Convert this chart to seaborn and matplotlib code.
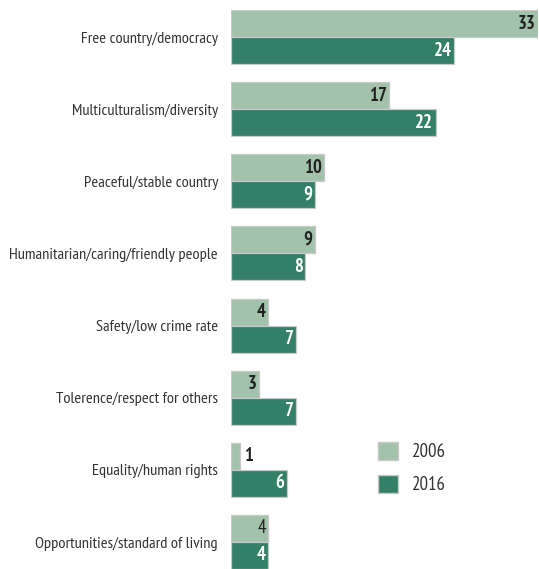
import numpy as np
import pandas as pd
import matplotlib
matplotlib.use("Agg")
import matplotlib.pyplot as plt
import seaborn as sns
from matplotlib.patches import Patch
from matplotlib import font_manager as fm

# Datos
categorias = [
    "Free country/democracy",
    "Multiculturalism/diversity",
    "Peaceful/stable country",
    "Humanitarian/caring/friendly people",
    "Safety/low crime rate",
    "Tolerence/respect for others",
    "Equality/human rights",
    "Opportunities/standard of living",
]
valores_2006 = [33, 17, 10, 9, 4, 3, 1, 4]
valores_2016 = [24, 22, 9, 8, 7, 7, 6, 4]
anios = ["2006", "2016"]

df = pd.DataFrame({
    "categoria": categorias * 2,
    "anio": [anios[0]] * len(categorias) + [anios[1]] * len(categorias),
    "valor": valores_2006 + valores_2016,
})

colores = {"2006": "#a3c2ab", "2016": "#337f68"}

# fuente condensada si existe
disponibles = {f.name for f in fm.fontManager.ttflist}
preferidas = ["PT Sans Narrow", "Roboto Condensed", "Liberation Sans Narrow",
              "Open Sans Condensed", "Fira Sans Condensed", "Archivo Narrow",
              "Encode Sans Condensed", "Barlow Condensed"]
fuente = next((f for f in preferidas if f in disponibles), "Liberation Sans")
escala = 1.0 if fuente != "Liberation Sans" else 0.85

sns.set_style("white")
plt.rcParams["font.family"] = [fuente, "DejaVu Sans"]

fig = plt.figure(figsize=(5.39, 5.69), dpi=100)
ax = fig.add_axes([231 / 539, 0, (538 - 231) / 539, 1 - 10 / 569])

sns.barplot(
    data=df, y="categoria", x="valor", hue="anio",
    palette=colores, orient="h", width=0.75, saturation=1,
    edgecolor="#c8c8c8", linewidth=0.9, legend=False, ax=ax
)

ax.set_xlim(0, 33)
ax.set_ylim(7.375, -0.375)
ax.set_xlabel("")
ax.set_ylabel("")
ax.set_xticks([])
ax.tick_params(axis="y", length=0, pad=9.4, labelsize=11.8 * escala,
               labelcolor="#333333")
for s in ax.spines.values():
    s.set_visible(False)

# etiquetas de valores
tam = 13.5 * escala
c06, c16 = ax.containers[0], ax.containers[1]
for i, (b, v) in enumerate(zip(c06, valores_2006)):
    yc = b.get_y() + b.get_height() / 2
    if v <= 1:
        ax.text(v + 0.45, yc, str(v), ha="left", va="center",
                fontsize=tam, fontweight="bold", color="#222222")
    else:
        peso = "normal" if i == len(valores_2006) - 1 else "bold"
        ax.text(v - 0.25, yc, str(v), ha="right", va="center",
                fontsize=tam, fontweight=peso, color="#222222")
for b, v in zip(c16, valores_2016):
    yc = b.get_y() + b.get_height() / 2
    ax.text(v - 0.25, yc, str(v), ha="right", va="center",
            fontsize=tam, fontweight="bold", color="white")

handles = [Patch(facecolor=colores[a], edgecolor="#c8c8c8", label=a) for a in anios]
fig.legend(
    handles=handles, loc="upper left",
    bbox_to_anchor=(378 / 539, 1 - 442 / 569),
    frameon=False, fontsize=tam, handlelength=1.07, handleheight=1.07,
    labelspacing=0.75, handletextpad=0.75, borderpad=0, borderaxespad=0,
    labelcolor="#333333"
)

fig.savefig("out.png", dpi=100)
